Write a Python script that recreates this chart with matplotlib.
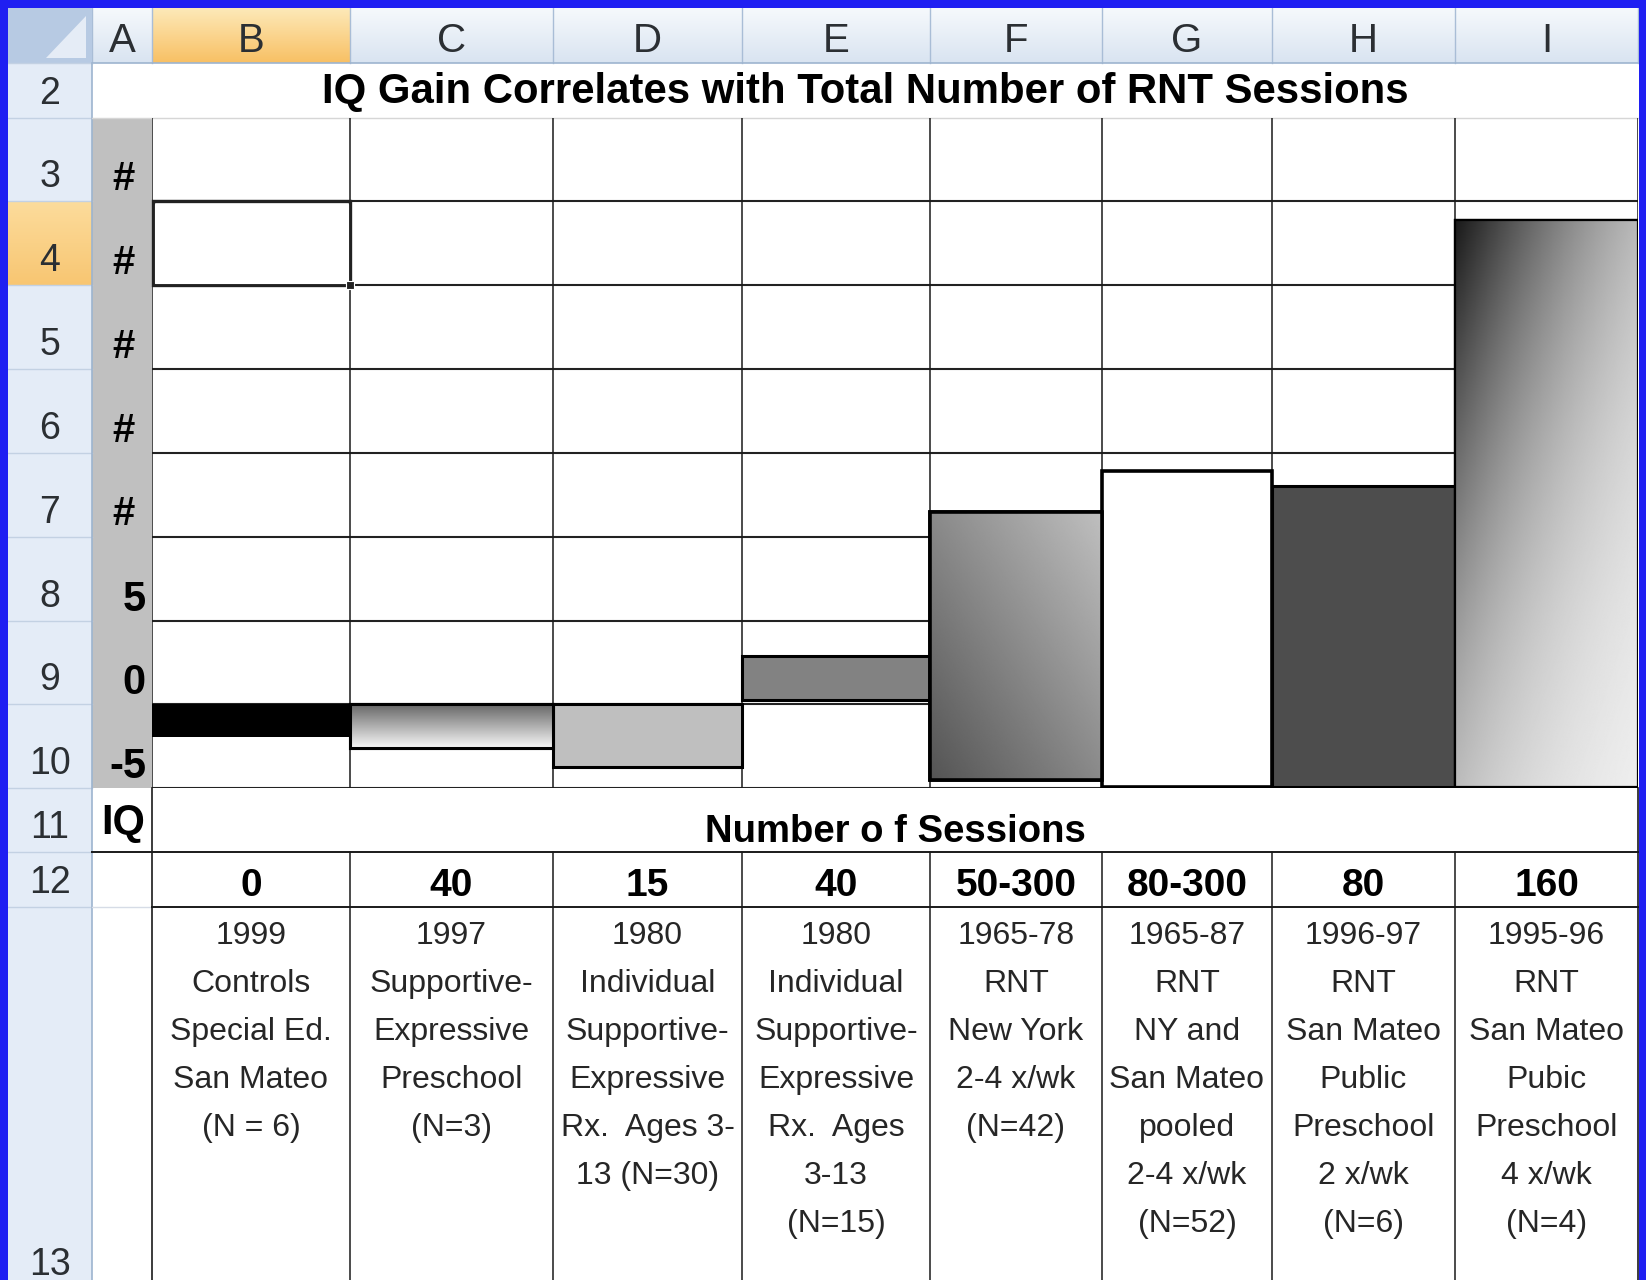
import numpy as np
import matplotlib
matplotlib.use("Agg")
import matplotlib.pyplot as plt
from matplotlib.patches import Rectangle, Polygon
from matplotlib.transforms import blended_transform_factory

# ---------------- data ----------------
column_letters = ["A", "B", "C", "D", "E", "F", "G", "H", "I"]
row_numbers = ["2", "3", "4", "5", "6", "7", "8", "9", "10", "11", "12", "13"]
chart_title = "IQ Gain Correlates with Total Number of RNT Sessions"
x_axis_title = "Number o f Sessions"
y_axis_title = "IQ"
sessions = ["0", "40", "15", "40", "50-300", "80-300", "80", "160"]
bar_top = [0.0, 0.0, 0.0, 2.9, 11.5, 13.9, 13.0, 28.9]
bar_bottom = [-1.95, -2.6, -3.75, 0.25, -4.5, -4.9, -4.9, -4.9]
iq_tick_values = [30, 25, 20, 15, 10, 5, 0, -5]
iq_tick_labels = ["#", "#", "#", "#", "#", "5", "0", "-5"]
study_notes = [
    ["1999", "Controls", "Special Ed.", "San Mateo", "(N = 6)"],
    ["1997", "Supportive-", "Expressive", "Preschool", "(N=3)"],
    ["1980", "Individual", "Supportive-", "Expressive", "Rx.  Ages 3-", "13 (N=30)"],
    ["1980", "Individual", "Supportive-", "Expressive", "Rx.  Ages", "3-13", "(N=15)"],
    ["1965-78", "RNT", "New York", "2-4 x/wk", "(N=42)"],
    ["1965-87", "RNT", "NY and", "San Mateo", "pooled", "2-4 x/wk", "(N=52)"],
    ["1996-97", "RNT", "San Mateo", "Public", "Preschool", "2 x/wk", "(N=6)"],
    ["1995-96", "RNT", "San Mateo", "Pubic", "Preschool", "4 x/wk", "(N=4)"],
]

# ---------------- layout (pixels) ----------------
W, H = 1646, 1280
col_edges = [8, 92, 152, 350, 553, 742, 930, 1102, 1272, 1455, 1638]
row_edges = [8, 63, 117.6, 201.4, 285.3, 369.1, 452.9, 536.7, 620.6, 704.4, 788.3, 852, 907, 1280]
FONT = ["Liberation Sans", "DejaVu Sans"]
plt.rcParams["font.family"] = FONT

fig = plt.figure(figsize=(W / 100, H / 100), dpi=100)
fig.patch.set_facecolor("white")
bg = fig.add_axes([0, 0, 1, 1])
bg.set_axis_off()

# blue frame
blue = "#1f1ff2"
for r in [(0, 0, W, 8), (0, 0, 8, H), (1639, 0, W - 1639, H)]:
    bg.add_patch(Rectangle((r[0], r[1]), r[2], r[3], color=blue, zorder=5, lw=0))


def vgrad(c_top, c_bot, n=64):
    a = np.array(matplotlib.colors.to_rgb(c_top))
    b = np.array(matplotlib.colors.to_rgb(c_bot))
    t = np.linspace(0, 1, n)[:, None]
    return (a * (1 - t) + b * t)[:, None, :]


# column header gradient
bg.imshow(vgrad("#f6f9fc", "#d9e4f1"), extent=(col_edges[1], col_edges[-1], row_edges[1], row_edges[0]),
          aspect="auto", origin="upper", zorder=1)
bg.imshow(vgrad("#fde9b8", "#f8c064"), extent=(col_edges[2], col_edges[3], row_edges[1], row_edges[0]),
          aspect="auto", origin="upper", zorder=1)
for x in col_edges[1:]:
    bg.plot([x, x], [row_edges[0], row_edges[1]], color="#a9bdd6", lw=1.0, zorder=2)
bg.plot([col_edges[0], col_edges[-1]], [row_edges[1], row_edges[1]], color="#9db4cf", lw=1.2, zorder=2)

# corner cell
bg.add_patch(Rectangle((8, 8), 84, 55, color="#b7cae3", lw=0, zorder=2))
bg.add_patch(Polygon([(86, 16), (86, 58), (46, 58)], closed=True, color="#e5ecf6", lw=0, zorder=3))

# row header (row 4 highlighted as the active row)
bg.add_patch(Rectangle((8, row_edges[1]), 84, H - row_edges[1], color="#e4ecf7", lw=0, zorder=1))
bg.imshow(vgrad("#fcdc9c", "#f8c672"), extent=(8, 92, row_edges[4], row_edges[3]),
          aspect="auto", origin="upper", zorder=1.5)
for y in row_edges[1:-1]:
    bg.plot([8, 92], [y, y], color="#c3d1e3", lw=1.0, zorder=2)
bg.plot([92, 92], [row_edges[1], H], color="#9db4cf", lw=1.2, zorder=2)

# column A gray cells (axis label column)
bg.add_patch(Rectangle((col_edges[1], row_edges[2]), col_edges[2] - col_edges[1],
                       row_edges[10] - row_edges[2], color="#c0c0c0", lw=0, zorder=1))

# light excel gridlines
bg.plot([92, col_edges[-1]], [row_edges[2], row_edges[2]], color="#d6d6d6", lw=1.0, zorder=2)
bg.plot([92, col_edges[2]], [row_edges[12], row_edges[12]], color="#d6dce6", lw=1.0, zorder=2)

# black cell borders below chart
k = "#1a1a1a"
bg.plot([92, col_edges[-1]], [row_edges[11], row_edges[11]], color=k, lw=1.4, zorder=3)
bg.plot([col_edges[2], col_edges[-1]], [row_edges[12], row_edges[12]], color=k, lw=1.4, zorder=3)
bg.plot([col_edges[2], col_edges[2]], [row_edges[10], H], color=k, lw=1.2, zorder=3)
bg.plot([col_edges[-1], col_edges[-1]], [row_edges[10], H], color=k, lw=1.2, zorder=3)
for x in col_edges[3:-1]:
    bg.plot([x, x], [row_edges[11], H], color=k, lw=1.1, zorder=3)

bg.set_xlim(0, W)
bg.set_ylim(H, 0)

# ---------------- chart axes over B3:I10 ----------------
cax = fig.add_axes([col_edges[2] / W, 1 - row_edges[10] / H,
                    (col_edges[-1] - col_edges[2]) / W, (row_edges[10] - row_edges[2]) / H])
cax.set_xlim(col_edges[2], col_edges[-1])
cax.set_ylim(-5, 35)
cax.set_axis_off()

for v in iq_tick_values:
    cax.axhline(v, color="#222222", lw=1.5, zorder=1)
for x in col_edges[2:]:
    cax.axvline(x, color=k, lw=1.1, zorder=1)

lefts = col_edges[2:-1]
widths = [b - a for a, b in zip(col_edges[2:-1], col_edges[3:])]
heights = [t - b for t, b in zip(bar_top, bar_bottom)]
faces = ["black", "#9a9a9a", "#bfbfbf", "#828282", "#8a8a8a", "white", "#4d4d4d", "#888888"]
edge_lw = [0.0, 2.2, 2.2, 2.2, 2.6, 2.6, 2.2, 1.6]
bars = cax.bar(lefts, heights, width=widths, bottom=bar_bottom, align="edge",
               color=faces, edgecolor="black", linewidth=edge_lw, zorder=3)


def grad_fill(patch, func):
    x0, y0 = patch.get_x(), patch.get_y()
    w, h = patch.get_width(), patch.get_height()
    u = np.linspace(0, 1, 200)[None, :]
    v = np.linspace(0, 1, 400)[:, None]
    img = func(u, v)
    im = cax.imshow(img, extent=(x0, x0 + w, y0, y0 + h), origin="lower", cmap="gray",
                    vmin=0, vmax=1, aspect="auto", zorder=3.5, interpolation="bilinear")
    im.set_clip_path(patch)
    cax.add_patch(Rectangle((x0, y0), w, h, fill=False, edgecolor="black",
                            lw=patch.get_linewidth(), zorder=4))


grad_fill(bars[1], lambda u, v: 0.40 + 0.57 * (1 - v) + 0 * u)
grad_fill(bars[4], lambda u, v: 0.33 + 0.42 * (0.5 * u + 0.5 * v))
grad_fill(bars[7], lambda u, v: 0.10 + 0.88 * np.tanh(1.25 * (0.62 * u + 0.64 * (1 - v)) / 0.88))

cax.set_xlim(col_edges[2], col_edges[-1])
cax.set_ylim(-5, 35)

# selected cell B4
cax.add_patch(Rectangle((col_edges[2] + 1, row_edges[3]), col_edges[3] - col_edges[2] - 1,
                        row_edges[4] - row_edges[3], fill=False, edgecolor="#222222", lw=2.4,
                        transform=bg.transData, clip_on=False, zorder=6))
cax.add_patch(Rectangle((col_edges[2] + 3, row_edges[3] + 2.5), col_edges[3] - col_edges[2] - 5,
                        row_edges[4] - row_edges[3] - 5, fill=False, edgecolor="white", lw=0.8,
                        transform=bg.transData, clip_on=False, zorder=6))
cax.add_patch(Rectangle((col_edges[3] - 4, row_edges[4] - 4), 8, 8, facecolor="#222222",
                        edgecolor="white", lw=0.8, transform=bg.transData, clip_on=False, zorder=7))

# ---------------- texts ----------------
hdr_color = "#2b2f33"
for j, letter in enumerate(column_letters):
    cx = (col_edges[j + 1] + col_edges[j + 2]) / 2
    bg.text(cx, 52, letter, ha="center", va="baseline", fontsize=29, color=hdr_color, zorder=6)
for i, rn in enumerate(row_numbers):
    bottom = row_edges[i + 2]
    yb = bottom - 14 if i < len(row_numbers) - 1 else 1275
    bg.text(50, yb, rn, ha="center", va="baseline", fontsize=27, color=hdr_color, zorder=6)

bg.text((col_edges[1] + col_edges[-1]) / 2, 103, chart_title, ha="center", va="baseline",
        fontsize=30.2, fontweight="bold", color="black", zorder=6)

trans = blended_transform_factory(bg.transData, cax.transData)
for v, lab in zip(iq_tick_values, iq_tick_labels):
    if lab == "#":
        cax.text(124, v + 0.68, lab, transform=trans, ha="center", va="baseline",
                 fontsize=29, fontweight="bold", clip_on=False)
    else:
        cax.text(146, v + 0.6, lab, transform=trans, ha="right", va="baseline",
                 fontsize=30, fontweight="bold", clip_on=False)

bg.text(101, 834, y_axis_title, ha="left", va="baseline", fontsize=30, fontweight="bold", zorder=6)
bg.text((col_edges[2] + col_edges[-1]) / 2, 842, x_axis_title, ha="center", va="baseline",
        fontsize=27.5, fontweight="bold", zorder=6)

for j, (s, notes) in enumerate(zip(sessions, study_notes)):
    cx = (col_edges[j + 2] + col_edges[j + 3]) / 2
    bg.text(cx, 896, s, ha="center", va="baseline", fontsize=28, fontweight="bold", zorder=6)
    for n, line in enumerate(notes):
        bg.text(cx, 944 + 48 * n, line, ha="center", va="baseline", fontsize=23,
                color="#262626", zorder=6)

fig.savefig("out.png", dpi=100, facecolor="white")
